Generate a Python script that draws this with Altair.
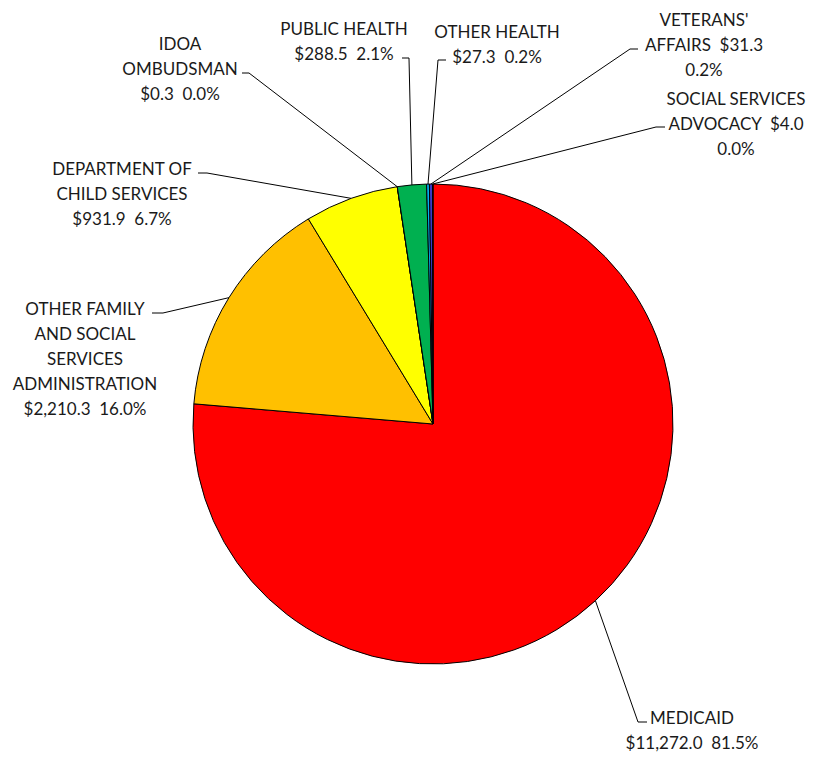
import altair as alt
import pandas as pd

# ---- data ----
categories = [
    "MEDICAID",
    "OTHER FAMILY AND SOCIAL SERVICES ADMINISTRATION",
    "DEPARTMENT OF CHILD SERVICES",
    "IDOA OMBUDSMAN",
    "PUBLIC HEALTH",
    "OTHER HEALTH",
    "VETERANS' AFFAIRS",
    "SOCIAL SERVICES ADVOCACY",
]
values = [11272.0, 2210.3, 931.9, 0.3, 288.5, 27.3, 31.3, 4.0]
value_labels = ["$11,272.0", "$2,210.3", "$931.9", "$0.3", "$288.5", "$27.3", "$31.3", "$4.0"]
pct_labels = ["81.5%", "16.0%", "6.7%", "0.0%", "2.1%", "0.2%", "0.2%", "0.0%"]
label_templates = [
    "MEDICAID\n{v}{s}{p}",
    "OTHER FAMILY\nAND SOCIAL\nSERVICES\nADMINISTRATION\n{v}{s}{p}",
    "DEPARTMENT OF\nCHILD SERVICES\n{v}{s}{p}",
    "IDOA\nOMBUDSMAN\n{v}{s}{p}",
    "PUBLIC HEALTH\n{v}{s}{p}",
    "OTHER HEALTH\n{v}{s}{p}",
    "VETERANS'\nAFFAIRS{s}{v}\n{p}",
    "SOCIAL SERVICES\nADVOCACY{s}{v}\n{p}",
]

# ---- style / layout ----
colors = ["#FF0000", "#FFC000", "#FFFF00", "#92D050", "#00B050", "#00B0F0", "#3A3AC8", "#7030A0"]
GAP = "\u00a0\u00a0"
ORIGIN = 8
CX, CY, R = 433 - ORIGIN, 424 - ORIGIN, 240
FONT = "Lato"
FS = 17
LH = 25
TEXT_DY = 3
# label block: centre x, first-line centre y (page px)
text_cx = [692, 85, 122, 180, 344, 497, 704, 736]
text_y1 = [716, 307, 167, 42, 27, 30, 18, 97]
# leader elbows and stub ends (page px)
elbow_x = [638, 163, 207, 249, 409, 438, 630, 656]
elbow_y = [722, 313, 173, 73, 58, 60, 49, 127]
stub_x = [647, 152, 198, 242, 402, 446, 638, 665]

rows = []
for i, c in enumerate(categories):
    txt = label_templates[i].format(v=value_labels[i], p=pct_labels[i], s=GAP)
    rows.append(dict(
        idx=i, cat=c, value=values[i], label=txt,
        tx=text_cx[i] - ORIGIN,
        ty=text_y1[i] - ORIGIN + TEXT_DY,
        exx=elbow_x[i] - ORIGIN, exy=elbow_y[i] - ORIGIN,
        sx=stub_x[i] - ORIGIN,
    ))
df = pd.DataFrame(rows)

base = alt.Chart(df)

pie = base.mark_arc(radius=R, stroke="black", strokeWidth=1).encode(
    theta=alt.Theta("value:Q", stack=True),
    order=alt.Order("idx:Q"),
    color=alt.Color("cat:N", scale=alt.Scale(domain=categories, range=colors), legend=None),
    x=alt.value(CX),
    y=alt.value(CY),
)

geo = base.transform_window(
    cum="sum(value)", sort=[alt.SortField("idx")], frame=[None, 0]
).transform_joinaggregate(
    total="sum(value)"
).transform_calculate(
    mid="2*PI*(datum.cum - datum.value/2)/datum.total",
    ex=f"{CX} + {R}*sin(datum.mid)",
    ey=f"{CY} - {R}*cos(datum.mid)",
)

leader = geo.mark_rule(color="black", strokeWidth=1).encode(
    x=alt.X("ex:Q", scale=None, axis=None),
    y=alt.Y("ey:Q", scale=None, axis=None),
    x2="exx:Q",
    y2="exy:Q",
)

stub = base.mark_rule(color="black", strokeWidth=1).encode(
    x=alt.X("exx:Q", scale=None, axis=None),
    y=alt.Y("exy:Q", scale=None, axis=None),
    x2="sx:Q",
)

labels = base.mark_text(
    font=FONT, fontSize=FS, lineBreak="\n", lineHeight=LH,
    align="center", baseline="middle", color="#1a1a1a",
).encode(
    x=alt.X("tx:Q", scale=None, axis=None),
    y=alt.Y("ty:Q", scale=None, axis=None),
    text="label:N",
)

chart = alt.layer(pie, leader, stub, labels).properties(
    width=799, height=744, padding=0,
    autosize=alt.AutoSizeParams(type="none"),
).configure_view(stroke=None)

chart.save("out.html", embed_options={"renderer": "svg", "actions": False})
